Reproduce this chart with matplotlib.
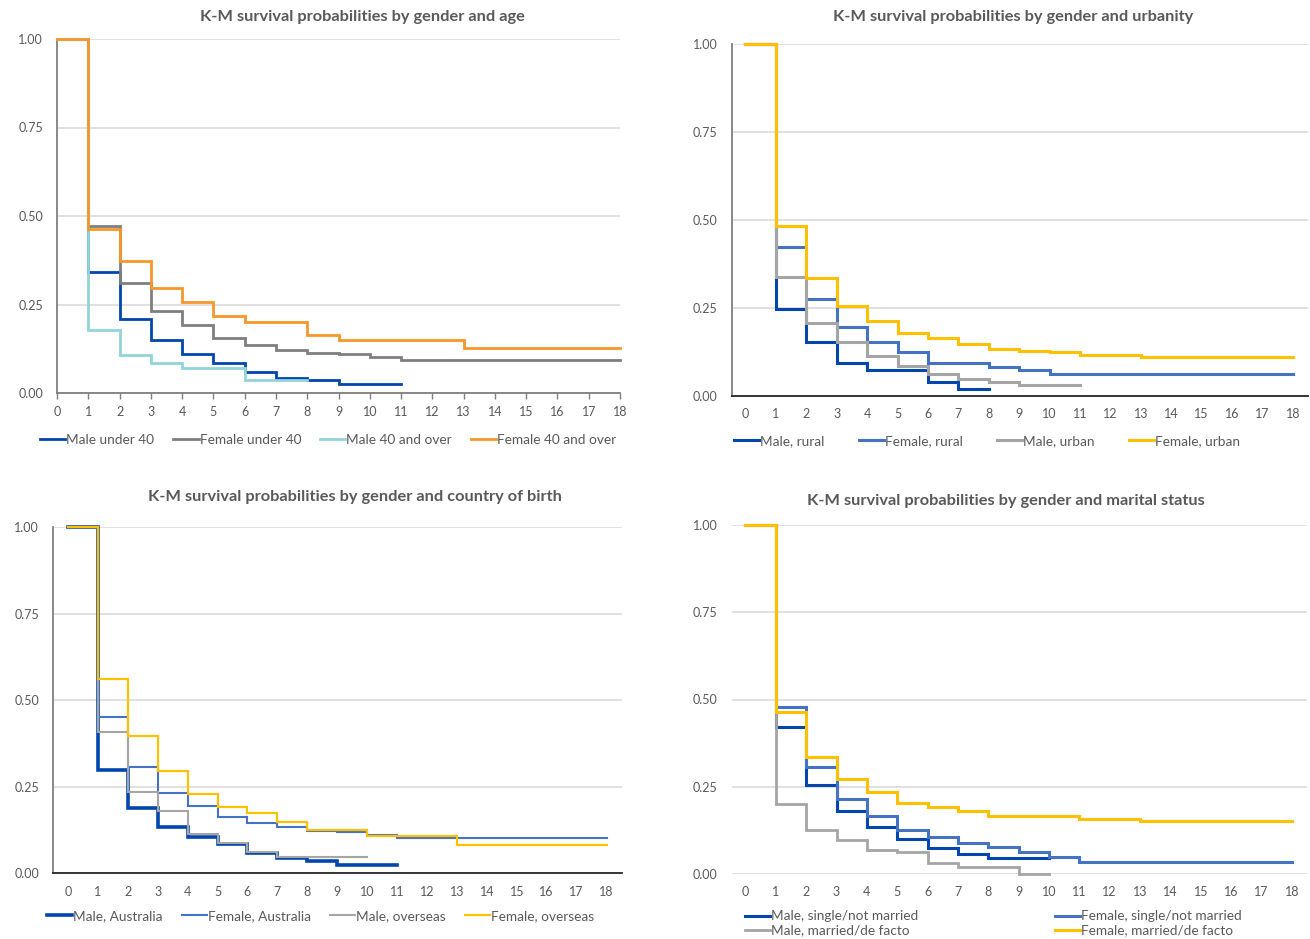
import numpy as np
import matplotlib
matplotlib.use("Agg")
import matplotlib.pyplot as plt

plt.rcParams['font.family'] = ['Lato', 'DejaVu Sans']

# K-M survival values, value at year t (step drawn from t to t+1)
years_ticks = list(range(0, 19))

# panel 1: gender and age
male_u40 = [1.0, 0.342, 0.209, 0.151, 0.111, 0.085, 0.058, 0.043, 0.036, 0.026, 0.026, 0.026]
female_u40 = [1.0, 0.472, 0.311, 0.231, 0.191, 0.156, 0.137, 0.121, 0.113, 0.110, 0.102,
              0.092, 0.092, 0.092, 0.092, 0.092, 0.092, 0.092, 0.092]
male_40plus = [1.0, 0.177, 0.108, 0.085, 0.071, 0.071, 0.036, 0.036, 0.036]
female_40plus = [1.0, 0.462, 0.373, 0.297, 0.258, 0.217, 0.200, 0.200, 0.164, 0.149, 0.149,
                 0.149, 0.149, 0.127, 0.127, 0.127, 0.127, 0.127, 0.127]

# panel 2: gender and urbanity
male_rural = [1.0, 0.246, 0.152, 0.095, 0.074, 0.074, 0.039, 0.019, 0.019]
female_rural = [1.0, 0.424, 0.275, 0.197, 0.152, 0.124, 0.093, 0.093, 0.083, 0.074, 0.062,
                0.062, 0.062, 0.062, 0.062, 0.062, 0.062, 0.062, 0.062]
male_urban = [1.0, 0.339, 0.206, 0.154, 0.114, 0.086, 0.062, 0.048, 0.041, 0.030, 0.030, 0.030]
female_urban = [1.0, 0.484, 0.334, 0.256, 0.214, 0.178, 0.166, 0.148, 0.133, 0.129, 0.125,
                0.116, 0.116, 0.111, 0.111, 0.111, 0.111, 0.111, 0.111]

# panel 3: gender and country of birth
male_aus = [1.0, 0.299, 0.188, 0.135, 0.106, 0.085, 0.058, 0.043, 0.036, 0.024, 0.024, 0.024]
female_aus = [1.0, 0.451, 0.306, 0.231, 0.195, 0.162, 0.145, 0.135, 0.122, 0.118, 0.112,
              0.103, 0.103, 0.103, 0.103, 0.103, 0.103, 0.103, 0.103]
male_os = [1.0, 0.407, 0.236, 0.180, 0.114, 0.087, 0.061, 0.046, 0.046, 0.046, 0.046]
female_os = [1.0, 0.561, 0.397, 0.297, 0.229, 0.191, 0.173, 0.149, 0.124, 0.124, 0.109,
             0.109, 0.109, 0.082, 0.082, 0.082, 0.082, 0.082, 0.082]

# panel 4: gender and marital status
male_single = [1.0, 0.420, 0.255, 0.181, 0.136, 0.099, 0.074, 0.057, 0.046, 0.046, 0.046]
female_single = [1.0, 0.478, 0.308, 0.214, 0.167, 0.126, 0.105, 0.088, 0.076, 0.064, 0.050,
                 0.035, 0.035, 0.035, 0.035, 0.035, 0.035, 0.035, 0.035]
male_married = [1.0, 0.201, 0.126, 0.096, 0.069, 0.064, 0.032, 0.019, 0.019, 0.0, 0.0]
female_married = [1.0, 0.463, 0.336, 0.271, 0.234, 0.204, 0.191, 0.181, 0.165, 0.165, 0.165,
                  0.159, 0.159, 0.152, 0.152, 0.152, 0.152, 0.152, 0.152]

DARK_BLUE = '#0046AD'
MID_BLUE = '#4472C4'
LIGHT_GREY = '#A5A5A5'
MID_GREY = '#7F7F7F'
CYAN = '#92D4DC'
ORANGE = '#F7962A'
YELLOW = '#FFC000'
TEXT = '#595959'
GRID = '#D9D9D9'

W, H = 1310, 939
fig = plt.figure(figsize=(W / 100, H / 100), dpi=100)


def box(x0, x1, ytop, ybot):
    return [x0 / W, 1 - ybot / H, (x1 - x0) / W, (ybot - ytop) / H]


def setup(ax, xlim, left_spine, bottom_color, ticks):
    ax.set_xlim(*xlim)
    ax.set_ylim(0, 1)
    ax.set_xticks(years_ticks)
    ax.set_yticks([0, 0.25, 0.5, 0.75, 1.0])
    ax.set_yticklabels(['0.00', '0.25', '0.50', '0.75', '1.00'])
    ax.grid(axis='y', color=GRID, lw=1.1, zorder=0)
    ax.set_axisbelow(True)
    for s in ['top', 'right']:
        ax.spines[s].set_visible(False)
    ax.spines['left'].set_visible(left_spine)
    ax.spines['left'].set_color(MID_GREY)
    ax.spines['left'].set_linewidth(1.3)
    if bottom_color is None:
        ax.spines['bottom'].set_visible(False)
    else:
        ax.spines['bottom'].set_color(bottom_color)
        ax.spines['bottom'].set_linewidth(1.3)
    ax.tick_params(axis='y', length=0, pad=10, labelsize=9, labelcolor=TEXT)
    if ticks:
        ax.tick_params(axis='x', length=4, width=1, color=MID_GREY, pad=5,
                       labelsize=9, labelcolor=TEXT)
    else:
        ax.tick_params(axis='x', length=0, pad=9, labelsize=9, labelcolor=TEXT)


def draw(ax, series, labels, colors, widths):
    handles = []
    for vals, lab, col, lw in zip(series, labels, colors, widths):
        t = np.arange(len(vals))
        h, = ax.step(t, vals, where='post', color=col, lw=lw, label=lab,
                     solid_joinstyle='miter', zorder=3, clip_on=False)
        handles.append(h)
    return handles


title_kw = dict(fontsize=11.8, fontweight='bold', color=TEXT)
leg_kw = dict(frameon=False, fontsize=9.8, labelcolor=TEXT, borderpad=0,
              handlelength=1.85, handletextpad=0.08, borderaxespad=0)

# Panel 1
ax1 = fig.add_axes(box(57, 620, 39, 393))
setup(ax1, (0, 18), True, MID_GREY, True)
h1 = draw(ax1, [male_u40, female_u40, male_40plus, female_40plus],
          ['Male under 40', 'Female under 40', 'Male 40 and over', 'Female 40 and over'],
          [DARK_BLUE, MID_GREY, CYAN, ORANGE], [2, 2, 2, 2])
fig.text(362 / W, 1 - 17 / H, 'K-M survival probabilities by gender and age',
         ha='center', va='center', **title_kw)
fig.legend(handles=h1, loc='center left', bbox_to_anchor=(40 / W, 1 - 440 / H),
           ncol=4, columnspacing=1.4, **leg_kw)

# Panel 2
ax2 = fig.add_axes(box(731.5, 1308, 44, 396))
setup(ax2, (-0.46, 18.5), True, '#262626', False)
h2 = draw(ax2, [male_rural, female_rural, male_urban, female_urban],
          ['Male, rural', 'Female, rural', 'Male, urban', 'Female, urban'],
          [DARK_BLUE, MID_BLUE, LIGHT_GREY, YELLOW], [2.2, 2.2, 2.2, 2.2])
fig.text(1013 / W, 1 - 17 / H, 'K-M survival probabilities by gender and urbanity',
         ha='center', va='center', **title_kw)
fig.legend(handles=h2, loc='center left', bbox_to_anchor=(734 / W, 1 - 441 / H),
           ncol=4, columnspacing=2.5, **leg_kw)

# Panel 3
ax3 = fig.add_axes(box(53, 621.5, 527.3, 873.3))
setup(ax3, (-0.5, 18.5), True, '#262626', False)
h3 = draw(ax3, [male_aus, female_aus, male_os, female_os],
          ['Male, Australia', 'Female, Australia', 'Male, overseas', 'Female, overseas'],
          [DARK_BLUE, MID_BLUE, LIGHT_GREY, YELLOW], [2.6, 1.5, 1.5, 1.6])
fig.text(355 / W, 1 - 497 / H, 'K-M survival probabilities by gender and country of birth',
         ha='center', va='center', **title_kw)
fig.legend(handles=h3, loc='center left', bbox_to_anchor=(47 / W, 1 - 916 / H),
           ncol=4, columnspacing=1.4, **leg_kw)

# Panel 4
ax4 = fig.add_axes(box(731.5, 1307, 525, 874))
setup(ax4, (-0.46, 18.5), False, None, False)
h4 = draw(ax4, [male_single, female_single, male_married, female_married],
          ['Male, single/not married', 'Female, single/not married',
           'Male, married/de facto', 'Female, married/de facto'],
          [DARK_BLUE, MID_BLUE, LIGHT_GREY, YELLOW], [2.2, 2.2, 2.0, 2.2])
fig.text(1006 / W, 1 - 501 / H, 'K-M survival probabilities by gender and marital status',
         ha='center', va='center', **title_kw)
fig.legend(handles=[h4[0], h4[2], h4[1], h4[3]], loc='center left',
           bbox_to_anchor=(745 / W, 1 - 923.5 / H), ncol=2, columnspacing=10.0,
           labelspacing=0.15, **leg_kw)

fig.savefig('out.png', dpi=100)
